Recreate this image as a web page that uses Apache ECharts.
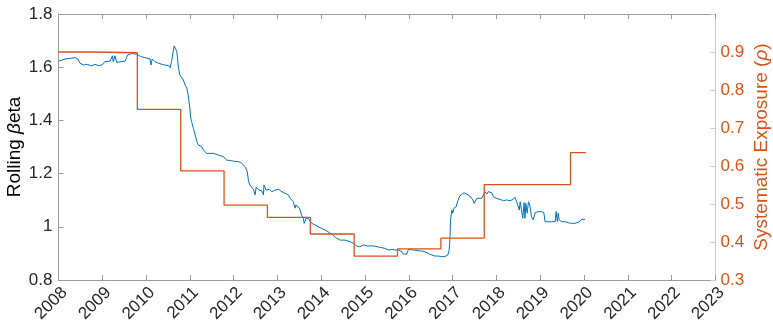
<!DOCTYPE html>
<html>
<head>
<meta charset="utf-8">
<script src="https://cdn.jsdelivr.net/npm/echarts@6/dist/echarts.min.js"></script>
<style>html,body{margin:0;padding:0;background:#fff;}#c{width:773px;height:327px;}</style>
</head>
<body>
<div id="c"></div>
<script>
// Rolling beta (left axis)
var betaYears = [2008.01,2008.15,2008.26,2008.38,2008.44,2008.49,2008.57,2008.64,2008.68,2008.76,2008.83,2008.91,2008.99,2009.06,2009.18,2009.22,2009.23,2009.25,2009.28,2009.29,2009.33,2009.44,2009.52,2009.58,2009.69,2009.79,2009.88,2009.97,2010.09,2010.11,2010.14,2010.20,2010.28,2010.36,2010.43,2010.51,2010.55,2010.58,2010.64,2010.66,2010.70,2010.74,2010.77,2010.81,2010.85,2010.89,2010.93,2010.96,2011.00,2011.02,2011.04,2011.08,2011.12,2011.16,2011.19,2011.27,2011.31,2011.38,2011.53,2011.65,2011.76,2011.84,2011.92,2011.99,2012.11,2012.18,2012.26,2012.31,2012.34,2012.37,2012.41,2012.45,2012.49,2012.51,2012.54,2012.58,2012.64,2012.68,2012.69,2012.72,2012.74,2012.77,2012.81,2012.87,2012.94,2013.02,2013.10,2013.17,2013.25,2013.29,2013.32,2013.36,2013.40,2013.42,2013.45,2013.50,2013.55,2013.59,2013.61,2013.65,2013.70,2013.74,2013.78,2013.86,2013.93,2014.01,2014.12,2014.20,2014.27,2014.35,2014.43,2014.54,2014.66,2014.73,2014.81,2014.88,2014.96,2015.04,2015.19,2015.34,2015.45,2015.53,2015.61,2015.68,2015.76,2015.84,2015.87,2015.95,2015.99,2016.03,2016.10,2016.21,2016.29,2016.37,2016.44,2016.52,2016.60,2016.67,2016.75,2016.82,2016.89,2016.92,2016.94,2016.95,2016.98,2017.00,2017.03,2017.08,2017.11,2017.15,2017.21,2017.26,2017.32,2017.39,2017.46,2017.49,2017.53,2017.55,2017.59,2017.66,2017.70,2017.74,2017.78,2017.81,2017.89,2017.93,2018.00,2018.08,2018.16,2018.23,2018.31,2018.38,2018.42,2018.46,2018.50,2018.52,2018.54,2018.58,2018.60,2018.63,2018.65,2018.67,2018.70,2018.73,2018.76,2018.80,2018.84,2018.88,2018.95,2019.03,2019.08,2019.11,2019.15,2019.26,2019.34,2019.36,2019.39,2019.41,2019.43,2019.49,2019.56,2019.64,2019.72,2019.79,2019.87,2019.95,2020.02];
var betaValues = [1.623,1.631,1.633,1.636,1.631,1.615,1.608,1.611,1.606,1.605,1.611,1.606,1.608,1.621,1.623,1.623,1.643,1.621,1.621,1.643,1.618,1.621,1.623,1.646,1.652,1.648,1.640,1.636,1.631,1.608,1.631,1.621,1.615,1.611,1.608,1.606,1.598,1.621,1.680,1.683,1.660,1.596,1.571,1.564,1.552,1.533,1.521,1.495,1.445,1.408,1.395,1.370,1.345,1.320,1.308,1.301,1.289,1.276,1.276,1.270,1.264,1.251,1.249,1.247,1.245,1.239,1.226,1.207,1.170,1.157,1.153,1.141,1.120,1.148,1.153,1.138,1.136,1.120,1.157,1.161,1.138,1.132,1.141,1.132,1.138,1.141,1.132,1.126,1.120,1.107,1.101,1.094,1.070,1.082,1.078,1.070,1.044,1.032,1.013,1.032,1.032,1.026,1.013,1.007,1.000,0.994,0.985,0.976,0.969,0.957,0.950,0.950,0.944,0.938,0.928,0.925,0.932,0.928,0.928,0.923,0.919,0.913,0.915,0.913,0.913,0.906,0.898,0.897,0.915,0.913,0.913,0.910,0.909,0.906,0.900,0.894,0.890,0.890,0.888,0.888,0.894,0.913,0.963,1.026,1.063,1.051,1.070,1.076,1.094,1.113,1.123,1.128,1.123,1.116,1.101,1.088,1.088,1.107,1.101,1.107,1.107,1.132,1.123,1.132,1.128,1.113,1.107,1.103,1.098,1.101,1.098,1.103,1.111,1.094,1.098,1.063,1.094,1.098,1.032,1.091,1.032,1.088,1.051,1.094,1.082,1.038,1.026,1.053,1.057,1.057,1.053,1.019,1.015,1.019,1.019,1.057,1.019,1.051,1.026,1.019,1.019,1.015,1.013,1.013,1.017,1.028,1.028];

// Systematic exposure rho (right axis), step segments start years and values
var rhoStarts = [2008.00,2008.79,2009.80,2010.79,2011.78,2012.77,2013.75,2014.75,2015.74,2016.73,2017.72,2019.69,2020.04];
var rhoValues = [0.900,0.898,0.749,0.587,0.497,0.465,0.421,0.363,0.382,0.410,0.551,0.635,0.635];

var xTicks = [2008,2009,2010,2011,2012,2013,2014,2015,2016,2017,2018,2019,2020,2021,2022,2023];
var leftTicks = [0.8,1.0,1.2,1.4,1.6,1.8];
var rightTicks = [0.3,0.4,0.5,0.6,0.7,0.8,0.9];

var FONT = "'Liberation Sans', Arial, Helvetica, sans-serif";
var ORANGE = '#D95319';
var BLUE = '#0072BD';
var AXIS = '#9a9a9a';
var TEXT = '#262626';

var betaData = betaYears.map(function (y, i) { return [y, betaValues[i]]; });
var rhoData = rhoStarts.map(function (y, i) { return [y, rhoValues[i]]; });

var chart = echarts.init(document.getElementById('c'), null, {renderer: 'canvas'});
chart.setOption({
  animation: false,
  backgroundColor: '#ffffff',
  grid: {left: 58.5, right: 57.5, top: 14, bottom: 47, containLabel: false, outerBoundsMode: 'none'},
  xAxis: [{
    type: 'value', min: xTicks[0], max: xTicks[xTicks.length - 1], interval: 1,
    position: 'bottom',
    axisLine: {show: true, lineStyle: {color: AXIS, width: 1}},
    axisTick: {show: true, inside: true, length: 5, lineStyle: {color: AXIS}},
    splitLine: {show: false},
    axisLabel: {rotate: 45, fontSize: 17, color: TEXT, fontFamily: FONT, margin: 4, verticalAlign: 'top',
      formatter: function (v) { return String(Math.round(v)); }}
  }, {
    type: 'value', min: xTicks[0], max: xTicks[xTicks.length - 1], interval: 1,
    position: 'top',
    axisLine: {show: true, lineStyle: {color: AXIS, width: 1}},
    axisTick: {show: true, inside: true, length: 5, lineStyle: {color: AXIS}},
    splitLine: {show: false},
    axisLabel: {show: false}
  }],
  yAxis: [{
    type: 'value', min: leftTicks[0], max: leftTicks[leftTicks.length - 1], interval: 0.2,
    position: 'left',
    axisLine: {show: true, lineStyle: {color: AXIS, width: 1}},
    axisTick: {show: true, inside: true, length: 5, lineStyle: {color: AXIS}},
    splitLine: {show: false},
    axisLabel: {fontSize: 17, color: TEXT, fontFamily: FONT, margin: 6,
      formatter: function (v) { var r = Math.round(v * 10) / 10; return r === 1 ? '1' : r.toFixed(1); }},
    name: '{a|Rolling }{b|β}{a|eta}',
    nameLocation: 'middle', nameRotate: 90, nameGap: 34, nameMoveOverlap: false,
    nameTextStyle: {rich: {
      a: {fontSize: 19, color: '#000', fontFamily: FONT},
      b: {fontSize: 19, color: '#000', fontFamily: FONT, fontStyle: 'italic'}
    }}
  }, {
    type: 'value', min: 0.3, max: 1.0, interval: 0.1,
    position: 'right',
    axisLine: {show: true, lineStyle: {color: '#F0C0A8', width: 1}},
    axisTick: {show: true, inside: true, length: 5, lineStyle: {color: '#F0C0A8'}},
    splitLine: {show: false},
    axisLabel: {fontSize: 17, color: ORANGE, fontFamily: FONT, margin: 5,
      formatter: function (v) { var r = Math.round(v * 10) / 10; return r >= 1 ? '' : r.toFixed(1); }},
    name: '{a|Systematic Exposure (}{b|ρ}{a|)}',
    nameLocation: 'middle', nameRotate: 90, nameGap: 37, nameMoveOverlap: false,
    nameTextStyle: {rich: {
      a: {fontSize: 19, color: ORANGE, fontFamily: FONT},
      b: {fontSize: 19, color: ORANGE, fontFamily: FONT, fontStyle: 'italic'}
    }}
  }],
  series: [{
    type: 'line', xAxisIndex: 0, yAxisIndex: 0, data: betaData,
    showSymbol: false, symbol: 'none',
    lineStyle: {color: BLUE, width: 1}
  }, {
    type: 'line', xAxisIndex: 0, yAxisIndex: 1, data: rhoData, step: 'end',
    showSymbol: false, symbol: 'none',
    lineStyle: {color: ORANGE, width: 1.3}
  }]
});
</script>
</body>
</html>
